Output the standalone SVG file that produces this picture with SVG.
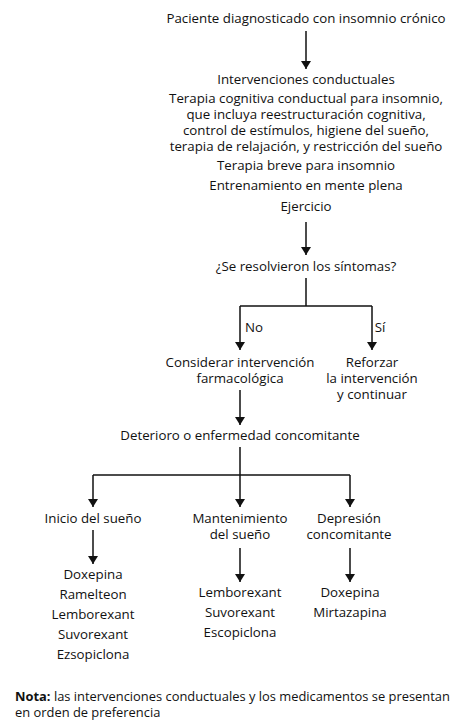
<svg xmlns="http://www.w3.org/2000/svg" width="468" height="720" viewBox="0 0 468 720">
<style>
text{font-family:"Open Sans","Liberation Sans",sans-serif;font-size:13.3px;fill:#111;text-anchor:middle;dominant-baseline:central}
.l{stroke:#111;stroke-width:1.5;fill:none}
.note{text-anchor:start;font-size:12.9px}
</style>
<defs>
<marker id="a" viewBox="0 0 10 10" refX="10" refY="5" markerWidth="8" markerHeight="10" markerUnits="userSpaceOnUse" orient="auto" preserveAspectRatio="none">
<path d="M0,0 L10,5 L0,10 z" fill="#111"/>
</marker>
</defs>
<rect width="468" height="720" fill="#fff"/>
<g id="connectors">
<line class="l" x1="306" y1="31" x2="306" y2="69" marker-end="url(#a)"/>
<line class="l" x1="306" y1="222" x2="306" y2="255" marker-end="url(#a)"/>
<polyline class="l" points="306,278 306,306"/>
<line class="l" x1="240" y1="306" x2="372" y2="306"/>
<line class="l" x1="240" y1="306" x2="240" y2="350" marker-end="url(#a)"/>
<line class="l" x1="372" y1="306" x2="372" y2="350" marker-end="url(#a)"/>
<line class="l" x1="240" y1="390" x2="240" y2="425" marker-end="url(#a)"/>
<line class="l" x1="240" y1="447" x2="240" y2="475"/>
<line class="l" x1="93" y1="475" x2="350" y2="475"/>
<line class="l" x1="93" y1="475" x2="93" y2="507" marker-end="url(#a)"/>
<line class="l" x1="240" y1="475" x2="240" y2="507" marker-end="url(#a)"/>
<line class="l" x1="350" y1="475" x2="350" y2="507" marker-end="url(#a)"/>
<line class="l" x1="93" y1="530" x2="93" y2="564" marker-end="url(#a)"/>
<line class="l" x1="240" y1="548" x2="240" y2="582" marker-end="url(#a)"/>
<line class="l" x1="350" y1="548" x2="350" y2="582" marker-end="url(#a)"/>
<text x="254" y="327">No</text>
<text x="380" y="327">Sí</text>
</g>
<g id="paciente"><text x="306" y="18">Paciente diagnosticado con insomnio crónico</text></g>
<g id="intervenciones">
<text x="306" y="79">Intervenciones conductuales</text>
<text x="306" y="98">Terapia cognitiva conductual para insomnio,</text>
<text x="306" y="114">que incluya reestructuración cognitiva,</text>
<text x="306" y="130">control de estímulos, higiene del sueño,</text>
<text x="306" y="146">terapia de relajación, y restricción del sueño</text>
<text x="306" y="165">Terapia breve para insomnio</text>
<text x="306" y="185">Entrenamiento en mente plena</text>
<text x="306" y="206">Ejercicio</text>
</g>
<g id="resolvieron"><text x="306" y="266">¿Se resolvieron los síntomas?</text></g>
<g id="considerar">
<text x="240" y="362">Considerar intervención</text>
<text x="240" y="378">farmacológica</text>
</g>
<g id="reforzar">
<text x="372" y="362">Reforzar</text>
<text x="372" y="378">la intervención</text>
<text x="372" y="394">y continuar</text>
</g>
<g id="deterioro"><text x="240" y="435">Deterioro o enfermedad concomitante</text></g>
<g id="inicio"><text x="93" y="518">Inicio del sueño</text></g>
<g id="mantenimiento">
<text x="240" y="518">Mantenimiento</text>
<text x="240" y="534">del sueño</text>
</g>
<g id="depresion">
<text x="349" y="518">Depresión</text>
<text x="349" y="534">concomitante</text>
</g>
<g id="farmacos-inicio">
<text x="93" y="574">Doxepina</text>
<text x="93" y="594">Ramelteon</text>
<text x="93" y="614">Lemborexant</text>
<text x="93" y="634">Suvorexant</text>
<text x="93" y="654">Ezsopiclona</text>
</g>
<g id="farmacos-mantenimiento">
<text x="240" y="592">Lemborexant</text>
<text x="240" y="612">Suvorexant</text>
<text x="240" y="632">Escopiclona</text>
</g>
<g id="farmacos-depresion">
<text x="350" y="592">Doxepina</text>
<text x="350" y="612">Mirtazapina</text>
</g>
<g id="nota">
<text class="note" x="15" y="696"><tspan font-weight="bold">Nota:</tspan> las intervenciones conductuales y los medicamentos se presentan</text>
<text class="note" x="15" y="712">en orden de preferencia</text>
</g>
</svg>
